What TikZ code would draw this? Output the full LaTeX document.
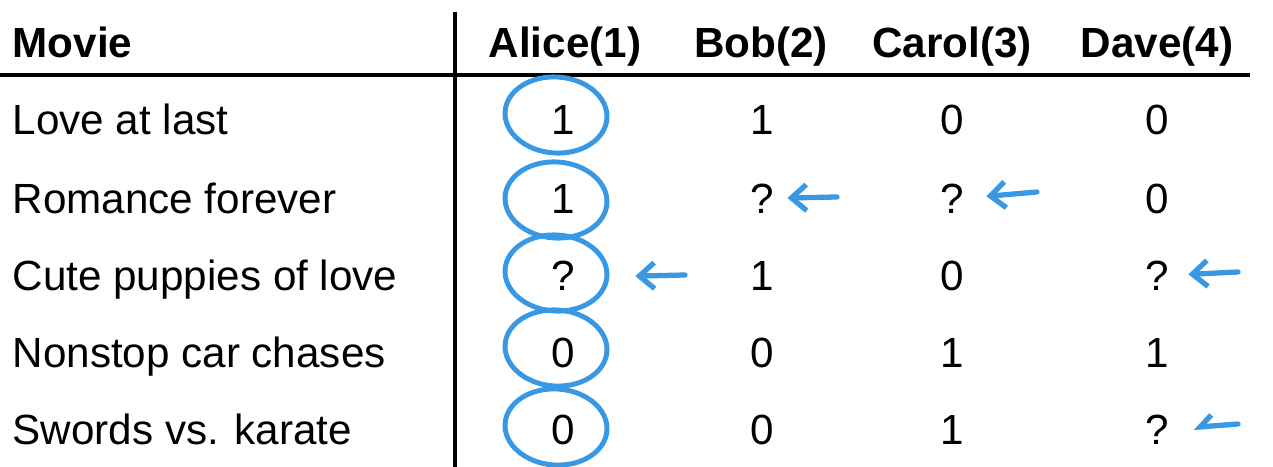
\documentclass[tikz,border=0pt]{standalone}
\usepackage{fontspec}
\setmainfont{Liberation Sans}
\usetikzlibrary{arrows.meta,calc,shapes.geometric}
\definecolor{pen}{RGB}{56,152,228}

\begin{document}
\begin{tikzpicture}[x=.01cm,y=-.01cm,
  every node/.style={inner sep=0,anchor=base,font=\fontsize{12}{14}\selectfont},
  ring/.style={draw=pen,line width=1.4pt,ellipse,minimum width=10.2mm,minimum height=7.6mm},
  pointer/.style={pen,line width=1.5pt,line cap=round,-{Straight Barb[length=1.5mm,width=2.6mm]}}]
\useasboundingbox(0,0)rectangle(1273,467);
% header
\node[anchor=base west,font=\fontsize{12}{14}\selectfont\bfseries](H0)at(12,58){Movie};
\node[font=\fontsize{12}{14}\selectfont\bfseries](H1)at(565,58){Alice(1)};
\node[font=\fontsize{12}{14}\selectfont\bfseries](H2)at(761,58){Bob(2)};
\node[font=\fontsize{12}{14}\selectfont\bfseries](H3)at(952,58){Carol(3)};
\node[font=\fontsize{12}{14}\selectfont\bfseries](H4)at(1157,58){Dave(4)};
% movies
\node[anchor=base west](M1)at(12,135){Love at last};
\node[anchor=base west](M2)at(12,213){Romance forever};
\node[anchor=base west](M3)at(12,290){Cute puppies of love};
\node[anchor=base west](M4)at(12,367){Nonstop car chases};
\node[anchor=base west](M5)at(12,444){Swords vs. karate};
% ratings
\node(A1)at(563,135){1};
\node(A2)at(563,213){1};
\node(A3)at(563,290){?};
\node(A4)at(563,367){0};
\node(A5)at(563,444){0};
\node(B1)at(762,135){1};
\node(B2)at(762,213){?};
\node(B3)at(762,290){1};
\node(B4)at(762,367){0};
\node(B5)at(762,444){0};
\node(C1)at(952,135){0};
\node(C2)at(952,213){?};
\node(C3)at(952,290){0};
\node(C4)at(952,367){1};
\node(C5)at(952,444){1};
\node(D1)at(1157,135){0};
\node(D2)at(1157,213){0};
\node(D3)at(1157,290){?};
\node(D4)at(1157,367){1};
\node(D5)at(1157,444){?};
% rules
\draw[line width=.9pt](0,75)--(1250,75);
\draw[line width=.9pt](455,12)--(455,467);
% circled column
\node[ring,rotate=-4](E1)at($(A1.base)+(-7,-20)$){};
\node[ring,rotate=-4](E2)at($(A2.base)+(-7,-13)$){};
\node[ring,rotate=-4](E3)at($(A3.base)+(-7,-17)$){};
\node[ring,rotate=-4](E4)at($(A4.base)+(-7,-19)$){};
\node[ring,rotate=-4](E5)at($(A5.base)+(-7,-17)$){};
% missing ratings
\coordinate(T1)at(837,197);
\coordinate(T2)at(1037,192);
\coordinate(T3)at(685,275);
\coordinate(T4)at(1238,272);
\coordinate(T5)at(1238,424);
\draw[pointer,shorten >=1.3mm](T1)--(B2.east);
\draw[pointer,shorten >=2.2mm](T2)--(C2.east);
\draw[pointer,shorten >=2.6mm](T3)--(E3.east);
\draw[pointer,shorten >=1.9mm](T4)--(D3.east);
\draw[pen,line width=1.5pt,line cap=round,-{Straight Barb[harpoon,swap,length=1.2mm,width=2.2mm]},shorten >=2.4mm](T5)--(D5.east);
\end{tikzpicture}
\end{document}
